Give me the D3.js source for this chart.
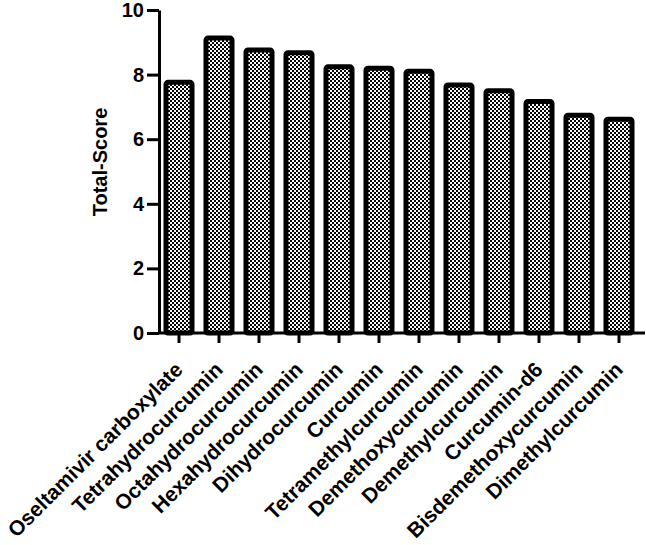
<!DOCTYPE html>
<html>
<head>
<meta charset="utf-8">
<script src="https://cdn.jsdelivr.net/npm/d3@7"></script>
<style>
  body { margin: 0; background: #fff; }
  text { font-family: "Liberation Sans", Arial, sans-serif; font-weight: bold; fill: #000; }
</style>
</head>
<body>
<div id="container"></div>
<script>
// data
const compounds = ["Oseltamivir carboxylate", "Tetrahydrocurcumin", "Octahydrocurcumin",
  "Hexahydrocurcumin", "Dihydrocurcumin", "Curcumin", "Tetramethylcurcumin",
  "Demethoxycurcumin", "Demethylcurcumin", "Curcumin-d6", "Bisdemethoxycurcumin",
  "Dimethylcurcumin"];
const totalScore = [7.76, 9.13, 8.76, 8.68, 8.24, 8.2, 8.1, 7.68, 7.5, 7.17, 6.74, 6.62];
const yTicks = [0, 2, 4, 6, 8, 10];

const width = 646, height = 545;
const axisX = 159, axisY = 333;

const svg = d3.select("#container").append("svg")
  .attr("width", width)
  .attr("height", height);

// checker fill
const pat = svg.append("defs").append("pattern")
  .attr("id", "checker")
  .attr("patternUnits", "userSpaceOnUse")
  .attr("width", 4).attr("height", 4);
pat.append("rect").attr("width", 4).attr("height", 4).attr("fill", "#000");
pat.append("rect").attr("width", 2).attr("height", 2).attr("fill", "#fff");
pat.append("rect").attr("x", 2).attr("y", 2).attr("width", 2).attr("height", 2).attr("fill", "#fff");

const x = d3.scaleBand()
  .domain(compounds)
  .range([axisX, axisX + 40 * compounds.length])
  .paddingInner(0.35)
  .paddingOuter(0.175);

const y = d3.scaleLinear()
  .domain([0, 10])
  .range([axisY, 10]);

// bars
svg.selectAll("rect.bar")
  .data(compounds)
  .join("rect")
  .attr("class", "bar")
  .attr("x", d => x(d))
  .attr("y", (d, i) => y(totalScore[i]))
  .attr("width", x.bandwidth())
  .attr("height", (d, i) => axisY - y(totalScore[i]))
  .attr("rx", 2)
  .attr("fill", "url(#checker)")
  .attr("stroke", "#000")
  .attr("stroke-width", 5);

// y axis
const yAxis = svg.append("g")
  .attr("transform", `translate(${axisX},0)`)
  .call(d3.axisLeft(y).tickValues(yTicks).tickSize(12).tickSizeOuter(0).tickPadding(3));
yAxis.select(".domain").attr("stroke-width", 3);
yAxis.selectAll(".tick line").attr("stroke-width", 3);
yAxis.selectAll(".tick text").style("font-size", "20px");

// x axis
const xAxis = svg.append("g")
  .attr("transform", `translate(0,${axisY})`)
  .call(d3.axisBottom(x).tickSize(10).tickSizeOuter(0));
xAxis.select(".domain").attr("d", `M${axisX},0H645`).attr("stroke-width", 3);
xAxis.selectAll(".tick line").attr("stroke-width", 3);
xAxis.selectAll(".tick text")
  .style("font-size", "21px")
  .attr("text-anchor", "end")
  .attr("x", 0).attr("y", 0).attr("dy", 0)
  .attr("transform", "translate(5,38) rotate(-45)");

// y label
svg.append("text")
  .attr("transform", "translate(107,162) rotate(-90)")
  .attr("text-anchor", "middle")
  .style("font-size", "20px")
  .text("Total-Score");
</script>
</body>
</html>
